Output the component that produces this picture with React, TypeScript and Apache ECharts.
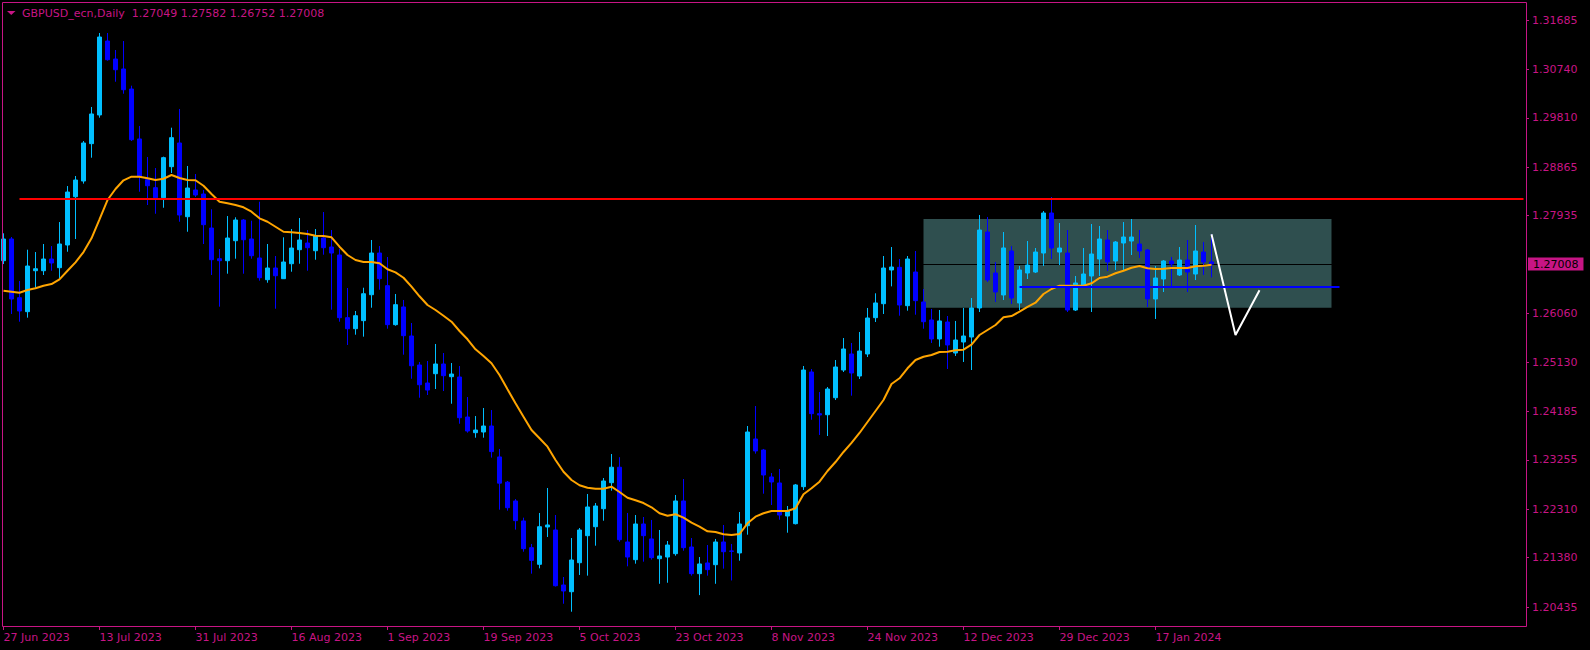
import { useEffect, useRef } from "react";
import * as echarts from "echarts";

const PINK = "#C71585";
const FONT = "'DejaVu Sans', sans-serif";

const symbolTitle = "GBPUSD_ecn,Daily";
const headerValues = ["1.27049", "1.27582", "1.26752", "1.27008"];

const firstDate = [2023, 5, 27];
const holidayDates = ["2023-12-25", "2024-01-01"];
const futureBars = 39;
const labelEvery = 12;

const opens = [
  1.27072, 1.27488, 1.26363, 1.26095, 1.2688, 1.2688, 1.27104, 1.26938, 1.27373, 1.28298,
  1.28599, 1.29315, 1.29865, 1.31282, 1.30937, 1.30746, 1.30362, 1.29405, 1.28625, 1.28471,
  1.28279, 1.28874, 1.29328, 1.27915, 1.28427, 1.2835, 1.27698, 1.2711, 1.27072, 1.27455,
  1.27852, 1.27488, 1.27124, 1.26708, 1.26932, 1.26727, 1.27014, 1.27283, 1.27411, 1.27263,
  1.27507, 1.27334, 1.27181, 1.2598, 1.25769, 1.25923, 1.2642, 1.27219, 1.26593, 1.25846,
  1.26185, 1.25629, 1.25073, 1.24728, 1.24906, 1.25092, 1.24849, 1.24843, 1.24076, 1.23776,
  1.23789, 1.23904, 1.23311, 1.22828, 1.22467, 1.22084, 1.21572, 1.21253, 1.21969, 1.21911,
  1.20857, 1.20728, 1.21284, 1.21802, 1.21974, 1.22319, 1.22817, 1.23114, 1.21681, 1.21342,
  1.22026, 1.21739, 1.21361, 1.21393, 1.21457, 1.22467, 1.21585, 1.21074, 1.21279, 1.21246,
  1.21681, 1.21509, 1.21471, 1.21993, 1.23655, 1.23444, 1.22927, 1.22812, 1.22179, 1.22032,
  1.22741, 1.24939, 1.2414, 1.2412, 1.24446, 1.24977, 1.25284, 1.24862, 1.25284, 1.2598,
  1.26248, 1.26894, 1.26945, 1.2621, 1.26855, 1.26281, 1.25936, 1.25572, 1.25897, 1.25303,
  1.25514, 1.2561, 1.26166, 1.27622, 1.26836, 1.26415, 1.27258, 1.26262, 1.26836, 1.26855,
  1.27219, 1.27986, 1.27238, 1.27219, 1.26127, 1.26587, 1.26779, 1.27104, 1.27469, 1.27066,
  1.27411, 1.27449, 1.27392, 1.27277, 1.26338, 1.26721, 1.27066, 1.26798, 1.27085, 1.26817,
  1.27238, 1.27049,
];

const highs = [
  1.27597, 1.27526, 1.26683, 1.27283, 1.27238, 1.27392, 1.27353, 1.27813, 1.28503, 1.28695,
  1.29366, 1.30018, 1.31436, 1.31436, 1.3111, 1.31282, 1.30426, 1.29654, 1.2906, 1.28848,
  1.29066, 1.29621, 1.2998, 1.28887, 1.28733, 1.28427, 1.28057, 1.27296, 1.27928, 1.27904,
  1.27871, 1.27838, 1.28202, 1.27392, 1.27162, 1.2752, 1.27679, 1.2789, 1.2766, 1.27679,
  1.28005, 1.2766, 1.27296, 1.26549, 1.26108, 1.26554, 1.27469, 1.27353, 1.27143, 1.26434,
  1.26319, 1.25878, 1.2513, 1.2515, 1.25476, 1.25303, 1.25111, 1.25054, 1.24459, 1.24095,
  1.24249, 1.2421, 1.23464, 1.2285, 1.22505, 1.22147, 1.21643, 1.22237, 1.22716, 1.22198,
  1.2101, 1.21757, 1.21949, 1.22601, 1.22428, 1.22907, 1.23367, 1.23306, 1.22237, 1.22198,
  1.2216, 1.22103, 1.21911, 1.217, 1.22582, 1.22888, 1.21757, 1.21393, 1.21623, 1.21739,
  1.22007, 1.21643, 1.22256, 1.23904, 1.24287, 1.23464, 1.23003, 1.2308, 1.22371, 1.22793,
  1.25054, 1.24996, 1.24555, 1.24651, 1.25169, 1.2559, 1.25495, 1.25706, 1.26166, 1.26447,
  1.27162, 1.27334, 1.27104, 1.27162, 1.27258, 1.2653, 1.26147, 1.26127, 1.26012, 1.25917,
  1.26166, 1.26357, 1.27948, 1.2791, 1.27047, 1.27622, 1.27353, 1.2697, 1.27449, 1.27315,
  1.28024, 1.28292, 1.27794, 1.2766, 1.26779, 1.27315, 1.27775, 1.27737, 1.2766, 1.27449,
  1.27813, 1.27871, 1.2766, 1.27296, 1.2697, 1.27085, 1.27143, 1.27334, 1.27469, 1.27756,
  1.2743, 1.27582,
];

const lows = [
  1.27008, 1.26051, 1.25903, 1.2598, 1.26554, 1.26798, 1.2688, 1.26734, 1.27244, 1.27488,
  1.28549, 1.29046, 1.29813, 1.30905, 1.30502, 1.30272, 1.29366, 1.28394, 1.28139, 1.27972,
  1.28087, 1.28753, 1.27819, 1.27627, 1.28293, 1.27392, 1.26798, 1.26191, 1.26823, 1.2711,
  1.26823, 1.2711, 1.26689, 1.2665, 1.26152, 1.26721, 1.26861, 1.27014, 1.2688, 1.27091,
  1.27187, 1.26133, 1.25903, 1.25457, 1.25654, 1.25616, 1.26171, 1.26516, 1.25769, 1.25826,
  1.25271, 1.2481, 1.24446, 1.24498, 1.24613, 1.24574, 1.24331, 1.23948, 1.23776, 1.2368,
  1.2368, 1.23298, 1.223, 1.22281, 1.21918, 1.21495, 1.21074, 1.21176, 1.21777, 1.20828,
  1.20498, 1.20345, 1.21049, 1.21036, 1.2161, 1.22089, 1.22664, 1.21687, 1.21215, 1.21265,
  1.21304, 1.21342, 1.2088, 1.209, 1.21418, 1.21514, 1.21036, 1.20663, 1.21036, 1.2088,
  1.2117, 1.20944, 1.21323, 1.21821, 1.23374, 1.22607, 1.2239, 1.22108, 1.21859, 1.22017,
  1.22678, 1.24024, 1.23732, 1.23712, 1.24402, 1.24939, 1.24485, 1.24805, 1.25226, 1.25897,
  1.26051, 1.2658, 1.26018, 1.26114, 1.26037, 1.25769, 1.25495, 1.25424, 1.24997, 1.25246,
  1.25131, 1.24977, 1.26089, 1.26664, 1.26281, 1.26319, 1.26242, 1.26127, 1.26721, 1.26836,
  1.2697, 1.27104, 1.26989, 1.26089, 1.26108, 1.26549, 1.26089, 1.26779, 1.26875, 1.26894,
  1.26875, 1.27181, 1.27124, 1.26185, 1.25955, 1.26472, 1.26568, 1.26779, 1.26472, 1.26702,
  1.26798, 1.26752,
];

const closes = [
  1.27488, 1.26338, 1.26108, 1.2697, 1.26918, 1.27104, 1.27028, 1.27392, 1.28388, 1.28618,
  1.29328, 1.29884, 1.31359, 1.30924, 1.30732, 1.30349, 1.29391, 1.28682, 1.28509, 1.28279,
  1.29047, 1.2943, 1.27948, 1.28465, 1.28331, 1.27762, 1.27091, 1.27072, 1.27507, 1.27852,
  1.27474, 1.27168, 1.26746, 1.26932, 1.26784, 1.27047, 1.27315, 1.27469, 1.27321, 1.27545,
  1.27321, 1.27219, 1.2598, 1.25769, 1.26018, 1.26439, 1.27219, 1.26727, 1.25846, 1.26229,
  1.25635, 1.25059, 1.24695, 1.24593, 1.25092, 1.24868, 1.249, 1.24063, 1.23808, 1.23827,
  1.23904, 1.23413, 1.22809, 1.22338, 1.2209, 1.21553, 1.21329, 1.21974, 1.22007, 1.20843,
  1.20742, 1.21336, 1.21911, 1.22352, 1.22371, 1.2285, 1.23114, 1.21725, 1.21393, 1.22026,
  1.21802, 1.21381, 1.21413, 1.21623, 1.22467, 1.21572, 1.21074, 1.2126, 1.21151, 1.21681,
  1.21495, 1.21503, 1.22026, 1.23789, 1.23426, 1.22965, 1.22831, 1.22198, 1.22275, 1.22774,
  1.24977, 1.2414, 1.24115, 1.24613, 1.25035, 1.2538, 1.2492, 1.25341, 1.25974, 1.26262,
  1.26932, 1.26951, 1.26223, 1.27104, 1.26306, 1.25903, 1.25572, 1.25917, 1.25457, 1.25552,
  1.25629, 1.26166, 1.2766, 1.26702, 1.26472, 1.27316, 1.26357, 1.26894, 1.26989, 1.27238,
  1.27986, 1.27315, 1.27315, 1.26127, 1.26645, 1.26817, 1.272, 1.27488, 1.27047, 1.2743,
  1.27526, 1.27526, 1.27258, 1.26338, 1.26741, 1.27066, 1.27008, 1.27085, 1.26855, 1.27258,
  1.27047, 1.27008,
];

const maValues = [
  1.26497, 1.26478, 1.26459, 1.2651, 1.26543, 1.26593, 1.26625, 1.26715, 1.2688, 1.27041,
  1.27238, 1.27501, 1.27865, 1.28235, 1.28446, 1.28613, 1.28682, 1.28682, 1.28651, 1.28618,
  1.28643, 1.28714, 1.28657, 1.28618, 1.28613, 1.28509, 1.2835, 1.28202, 1.28172, 1.28139,
  1.28095, 1.28011, 1.27884, 1.27819, 1.27723, 1.27627, 1.27616, 1.27602, 1.27583, 1.27551,
  1.27545, 1.2752, 1.2734, 1.27181, 1.27085, 1.27047, 1.27047, 1.27022, 1.26907, 1.26849,
  1.26746, 1.26574, 1.2639, 1.26223, 1.26127, 1.26018, 1.25903, 1.25725, 1.25566, 1.25374,
  1.25246, 1.25106, 1.24882, 1.24608, 1.24339, 1.24083, 1.23828, 1.23669, 1.23508, 1.23253,
  1.23028, 1.22869, 1.22768, 1.22722, 1.22703, 1.22703, 1.22741, 1.22639, 1.2253, 1.2248,
  1.22428, 1.22346, 1.22231, 1.22185, 1.22212, 1.22147, 1.22051, 1.21975, 1.21886, 1.21873,
  1.21829, 1.21815, 1.21834, 1.22039, 1.22166, 1.22231, 1.22275, 1.22275, 1.22275, 1.22327,
  1.22595, 1.2271, 1.22837, 1.23042, 1.23214, 1.23406, 1.23579, 1.2377, 1.23981, 1.24192,
  1.24402, 1.24709, 1.24818, 1.2501, 1.25169, 1.25232, 1.25265, 1.25322, 1.25328, 1.25355,
  1.25367, 1.25462, 1.25648, 1.25744, 1.2584, 1.25987, 1.26012, 1.26095, 1.26185, 1.26267,
  1.26434, 1.2653, 1.26593, 1.26593, 1.26593, 1.26593, 1.26639, 1.26741, 1.26766, 1.26831,
  1.2688, 1.26938, 1.2697, 1.26926, 1.26913, 1.26918, 1.26932, 1.26932, 1.26932, 1.26964,
  1.26976, 1.26995,
];

const priceTicks = [
  1.31685, 1.3074, 1.2981, 1.28865, 1.27935, 1.2606, 1.2513, 1.24185, 1.23255, 1.2231,
  1.2138, 1.20435,
];

const priceMin = 1.20071;
const priceMax = 1.3203;
const bidPrice = 1.27008;

const resistanceLevel = 1.28255;
const resistanceFrom = 2;
const supportLevel = 1.26574;
const supportFrom = 127;
const supportTo = 167;
const boxHigh = 1.27871;
const boxLow = 1.26171;
const boxFrom = 115;
const boxTo = 166;
const projectionBars = [151, 154, 157];
const projectionPrices = [1.27578, 1.25648, 1.26505];

const MONTHS = ["Jan", "Feb", "Mar", "Apr", "May", "Jun", "Jul", "Aug", "Sep", "Oct", "Nov", "Dec"];

function buildCategories(): string[] {
  const out: string[] = [];
  const d = new Date(Date.UTC(firstDate[0], firstDate[1], firstDate[2]));
  while (out.length < opens.length) {
    const wd = d.getUTCDay();
    const iso = d.toISOString().slice(0, 10);
    if (wd !== 0 && wd !== 6 && !holidayDates.includes(iso)) {
      out.push(`${d.getUTCDate()} ${MONTHS[d.getUTCMonth()]} ${d.getUTCFullYear()}`);
    }
    d.setUTCDate(d.getUTCDate() + 1);
  }
  for (let i = 0; i < futureBars; i++) out.push("");
  return out;
}

export default function App() {
  const ref = useRef<HTMLDivElement>(null);

  useEffect(() => {
    if (!ref.current) return;
    const chart = echarts.init(ref.current, null, { renderer: "svg" });
    const categories = buildCategories();
    const showLabel = (i: number, v: string) => i % labelEvery === 0 && v !== "";
    const candles = opens.map((o, i) => [o, closes[i], lows[i], highs[i]]);
    const lastIdx = categories.length - 1;

    const option: any = {
      animation: false,
      backgroundColor: "#000000",
      grid: {
        left: -0.5,
        top: 2,
        width: 1528,
        height: 624,
        containLabel: false,
        outerBoundsMode: "none",
      },
      xAxis: {
        type: "category",
        data: categories,
        boundaryGap: true,
        axisLine: { show: false },
        axisTick: {
          show: true,
          alignWithLabel: true,
          interval: showLabel,
          length: 4,
          lineStyle: { color: PINK, width: 1 },
        },
        axisLabel: {
          interval: showLabel,
          color: PINK,
          fontFamily: FONT,
          fontSize: 11,
          align: "left",
          margin: 6,
        },
        splitLine: { show: false },
      },
      yAxis: {
        type: "value",
        position: "right",
        min: priceMin,
        max: priceMax,
        scale: true,
        offset: -1.5,
        axisLine: { show: false },
        splitLine: { show: false },
        axisTick: {
          show: true,
          length: 3,
          customValues: priceTicks,
          lineStyle: { color: PINK, width: 1 },
        },
        axisLabel: {
          customValues: priceTicks,
          formatter: (v: number) => v.toFixed(5),
          color: PINK,
          fontFamily: FONT,
          fontSize: 11,
          margin: 6,
        },
      },
      series: [
        {
          type: "line",
          name: "box",
          data: [],
          silent: true,
          markArea: {
            silent: true,
            z: 1,
            itemStyle: { color: "#2F4F4F", opacity: 1 },
            data: [[{ coord: [boxFrom, boxHigh] }, { coord: [boxTo, boxLow] }]],
          },
          markLine: {
            silent: true,
            z: 1.5,
            symbol: ["none", "none"],
            lineStyle: { color: "#000000", width: 1, type: "solid" },
            label: {
              show: true,
              position: "end",
              distance: 4.5,
              formatter: () => bidPrice.toFixed(5),
              color: "#000000",
              backgroundColor: PINK,
              padding: [1, 5, 0, 5],
              fontFamily: FONT,
              fontSize: 11,
              lineHeight: 12,
            },
            data: [[{ coord: [0, bidPrice] }, { coord: [lastIdx - 0.0, bidPrice] }]],
          },
        },
        {
          type: "candlestick",
          name: "GBPUSD",
          data: candles,
          barWidth: 4,
          z: 2,
          itemStyle: {
            color: "#00BFFF",
            color0: "#0000FF",
            borderColor: "#00BFFF",
            borderColor0: "#0000FF",
            borderWidth: 1,
          },
        },
        {
          type: "line",
          name: "MA",
          data: maValues,
          symbol: "none",
          showSymbol: false,
          z: 3,
          lineStyle: { color: "#FFA500", width: 2 },
        },
        {
          type: "line",
          name: "projection",
          data: projectionBars.map((b, i) => [b, projectionPrices[i]]),
          symbol: "none",
          showSymbol: false,
          z: 4,
          lineStyle: { color: "#FFFFFF", width: 2 },
          markLine: {
            silent: true,
            symbol: ["none", "none"],
            label: { show: false },
            data: [
              [
                { coord: [resistanceFrom, resistanceLevel], lineStyle: { color: "#FF0000", width: 2, type: "solid" } },
                { coord: [lastIdx, resistanceLevel] },
              ],
              [
                { coord: [supportFrom, supportLevel], lineStyle: { color: "#0000FF", width: 2, type: "solid" } },
                { coord: [supportTo, supportLevel] },
              ],
            ],
          },
        },
      ],
      graphic: [
        {
          type: "rect",
          silent: true,
          z: 100,
          shape: { x: 2.5, y: 2.5, width: 1524, height: 624 },
          style: { fill: "none", stroke: PINK, lineWidth: 1 },
        },
        {
          type: "polygon",
          silent: true,
          z: 100,
          shape: { points: [[7, 11], [15.5, 11], [11.25, 15]] },
          style: { fill: PINK },
        },
        {
          type: "text",
          silent: true,
          z: 100,
          x: 22,
          y: 13,
          style: {
            text: `${symbolTitle}  ${headerValues.join(" ")}`,
            fill: PINK,
            font: `11px ${FONT}`,
            textVerticalAlign: "middle",
            verticalAlign: "middle",
          },
        },
      ],
    };

    chart.setOption(option);
    return () => chart.dispose();
  }, []);

  return (
    <div
      ref={ref}
      style={{ position: "absolute", left: 0, top: 0, width: 1590, height: 650, background: "#000" }}
    />
  );
}
